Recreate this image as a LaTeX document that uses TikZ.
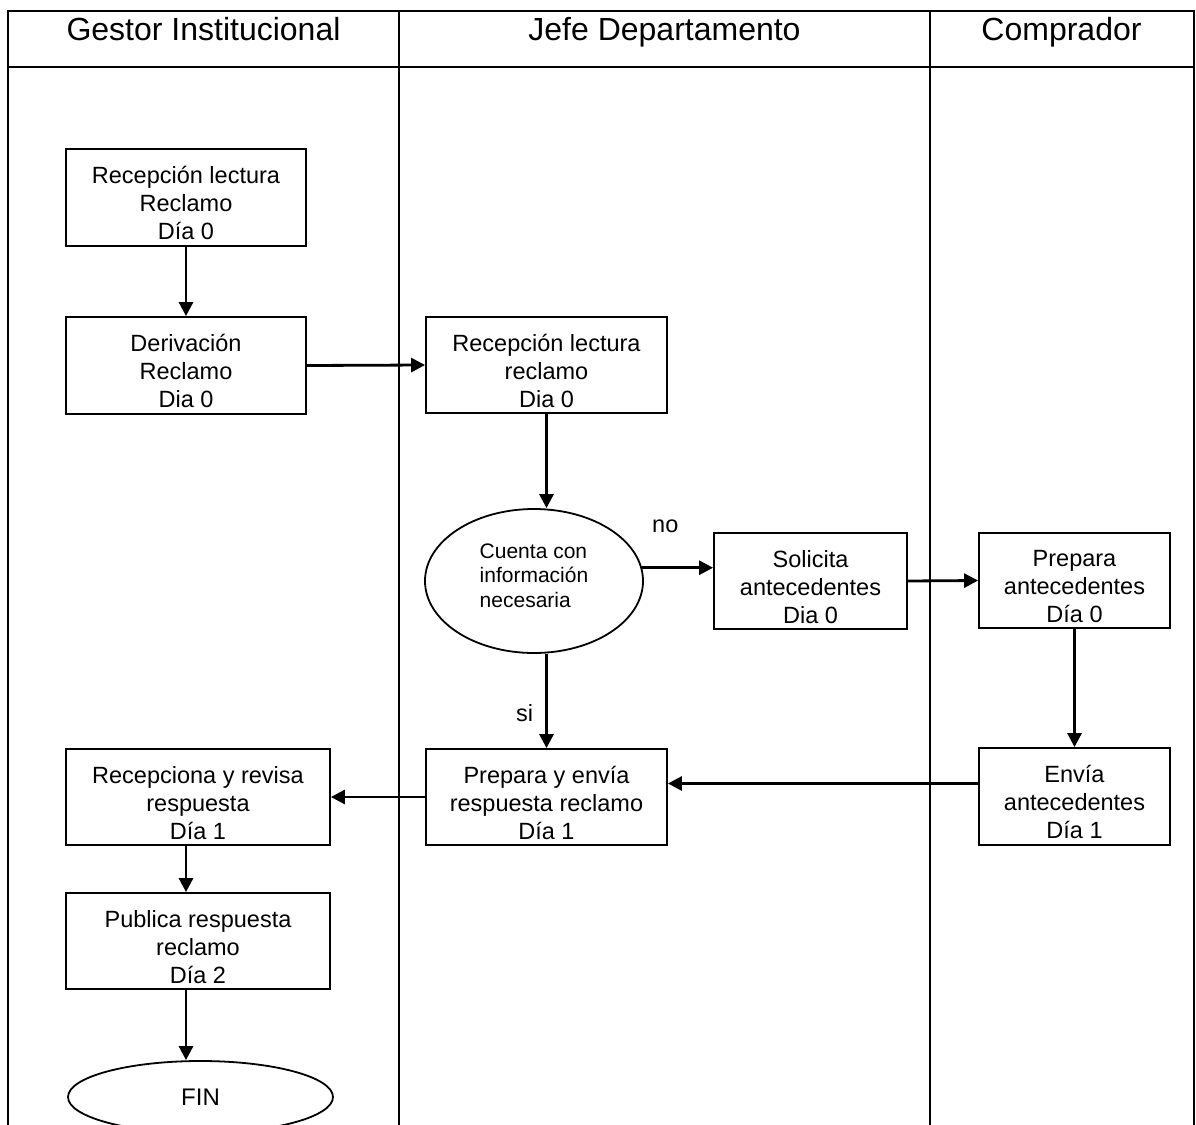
\documentclass[tikz,border=0pt]{standalone}
\usepackage{fontspec}
\setmainfont{Liberation Sans}
\usetikzlibrary{arrows.meta,shapes.geometric}
\begin{document}
\begin{tikzpicture}[x=1pt,y=-1pt,
  lane/.style={line width=2pt},
  proc/.style={draw, line width=1.8pt, rectangle, inner sep=0pt, align=center,
    font=\fontsize{23.5}{28}\selectfont, text height=84pt, text depth=0pt},
  decis/.style={draw, line width=1.8pt, ellipse, inner sep=0pt, align=left,
    font=\fontsize{21}{24.5}\selectfont, text height=52pt, text depth=0pt,
    minimum width=218pt, minimum height=144pt},
  term/.style={draw, line width=1.8pt, ellipse, inner sep=0pt,
    font=\fontsize{24}{28}\selectfont, minimum width=265pt, minimum height=72pt},
  head/.style={anchor=base, inner sep=0pt, font=\fontsize{32}{38}\selectfont},
  lbl/.style={anchor=base west, inner sep=0pt, font=\fontsize{23.5}{28}\selectfont},
  arr/.style={line width=2.8pt, -{Triangle[length=14pt,width=14pt]}}]
\useasboundingbox (0,0) rectangle (1196,1124);
\clip (0,0) rectangle (1196,1124);
\fill[white] (0,0) rectangle (1196,1124);

% swimlanes
\draw[lane] (8,1140) -- (8,11) -- (1194,11) -- (1194,1140);
\draw[lane] (8,67) -- (1194,67);
\draw[lane] (399,11) -- (399,1140);
\draw[lane] (930,11) -- (930,1140);

\node[head] (h1) at (203.5,41) {Gestor Institucional};
\node[head] (h2) at (664.5,41) {Jefe Departamento};
\node[head] (h3) at (1061.5,41) {Comprador};

% nodes
\node[proc, minimum width=240pt, minimum height=97pt] (b1) at (186,197.5) {Recepción lectura\\Reclamo\\Día 0};
\node[proc, minimum width=240pt, minimum height=97pt] (b2) at (186,365.5) {Derivación\\Reclamo\\Dia 0};
\node[proc, minimum width=241pt, minimum height=96pt] (b3) at (546.5,365) {Recepción lectura\\reclamo\\Dia 0};
\node[decis] (dec) at (534,581) {Cuenta con\\información\\necesaria};
\node[proc, minimum width=193pt, minimum height=96pt] (sol) at (810.5,581) {Solicita\\antecedentes\\Dia 0};
\node[proc, minimum width=191pt, minimum height=95pt] (pa) at (1074.5,580.5) {Prepara\\antecedentes\\Día 0};
\node[proc, minimum width=241pt, minimum height=96pt] (pe) at (546.5,797) {Prepara y envía\\respuesta reclamo\\Día 1};
\node[proc, minimum width=191pt, minimum height=97pt] (en) at (1074.5,796.5) {Envía\\antecedentes\\Día 1};
\node[proc, minimum width=264pt, minimum height=96pt] (rec) at (198,797) {Recepciona y revisa\\respuesta\\Día 1};
\node[proc, minimum width=264pt, minimum height=96pt] (pub) at (198,941) {Publica respuesta\\reclamo\\Día 2};
\node[term] (fin) at (200.5,1097) {FIN};

\node[lbl] (lno) at (652,532) {no};
\node[lbl] (lsi) at (516,721) {si};

% connectors
\draw[arr] (b1.south) -- (b2.north);
\draw[arr] (b2.east) -- (b3.west);
\draw[arr] (b3.south) -- (dec.north -| b3.south);
\draw[arr] (dec.7) -- (dec.7 -| sol.west);
\draw[arr] (sol.east) -- (pa.west);
\draw[arr] (pa.south) -- (en.north);
\draw[arr] ([yshift=13pt]en.west) -- ([yshift=13pt]en.west -| pe.east);
\draw[arr] (dec.south -| pe.north) -- (pe.north);
\draw[arr] (pe.west) -- (rec.east);
\draw[arr] (rec.south -| b1.south) -- (pub.north -| b1.south);
\draw[arr] (pub.south -| b1.south) -- (fin.north -| b1.south);
\end{tikzpicture}
\end{document}
